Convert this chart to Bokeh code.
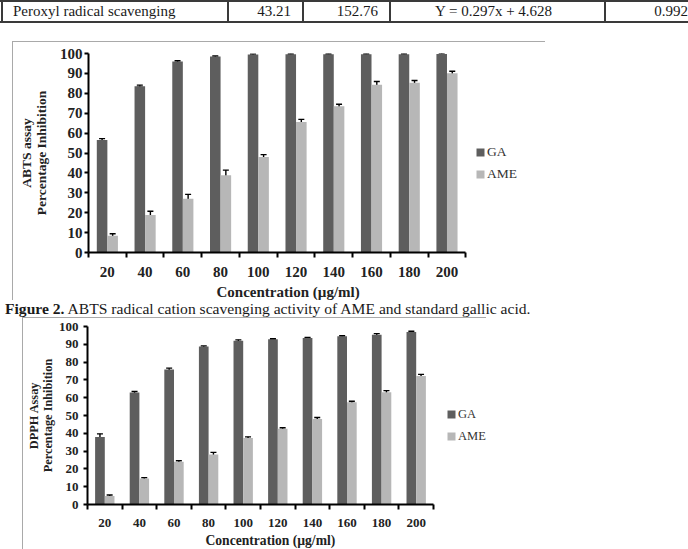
from bokeh.plotting import figure
from bokeh.models import (ColumnDataSource, FixedTicker, Legend, LegendItem, Title, Div,
                          Whisker, TeeHead, Range1d, CustomJSTickFormatter)
from bokeh.layouts import column
from bokeh.embed import file_html
from bokeh.resources import INLINE

# ---- data -----------------------------------------------------------------
concentrations = [20, 40, 60, 80, 100, 120, 140, 160, 180, 200]

abts_ga = [56.5, 83.6, 96.0, 98.5, 99.5, 99.6, 99.6, 99.6, 99.6, 99.7]
abts_ga_err = [0.7, 0.5, 0.4, 0.3, 0.3, 0.3, 0.3, 0.3, 0.3, 0.3]
abts_ame = [8.4, 18.9, 27.0, 38.8, 48.0, 65.6, 73.5, 84.3, 85.3, 90.1]
abts_ame_err = [1.0, 1.8, 2.2, 2.6, 1.2, 1.3, 1.0, 1.6, 1.1, 1.0]

dpph_ga = [37.9, 62.9, 75.8, 88.7, 92.0, 92.9, 93.6, 94.5, 95.4, 96.9]
dpph_ga_err = [1.8, 0.6, 0.8, 0.4, 0.5, 0.3, 0.3, 0.4, 0.6, 0.4]
dpph_ame = [4.8, 14.6, 24.0, 28.1, 37.3, 42.6, 48.0, 57.4, 63.1, 72.2]
dpph_ame_err = [0.5, 0.5, 0.6, 1.2, 0.7, 0.5, 0.9, 0.6, 0.9, 0.9]

table_row = ["Peroxyl radical scavenging", "43.21", "152.76", "Y = 0.297x + 4.628", "0.992"]
caption_bold = "Figure 2."
caption_text = "ABTS radical cation scavenging activity of AME and standard gallic acid."
y_ticks = list(range(0, 101, 10))
x_title = "Concentration (\u00b5g/ml)"
y_title = "Percentage Inhibition"

GA_COLOR = "#5e5e5e"
AME_COLOR = "#b7b7b7"
SERIF = "Liberation Serif"
FRAME = "1px solid #a9a9a9"
FRAME_COLOR = "#a9a9a9"


def bar_panel(ga, ga_err, ame, ame_err, assay, fig_w, fig_h, left, top, bottom, axis_px,
              tick_size, ylabel_size, xlabel_size, legend_size, legend_xy,
              tick_standoff, ylabel_standoff, xlabel_offset, xlabel_standoff):
    n = len(concentrations)
    idx = list(range(n))
    bw = 0.28
    # the plotting area runs to the right edge so the legend sits inside it;
    # the x axis itself is bounded to the ten concentration groups
    frame_w = fig_w - left
    x_end = -0.5 + n * frame_w / axis_px
    p = figure(width=fig_w, height=fig_h, output_backend="svg", toolbar_location=None,
               x_range=Range1d(-0.5, x_end), y_range=Range1d(0, 100),
               min_border_left=left, min_border_right=0,
               min_border_top=top, min_border_bottom=bottom)
    p.outline_line_color = None
    p.grid.visible = False
    p.background_fill_color = "white"
    p.border_fill_color = "white"

    ga_src = ColumnDataSource(dict(
        x=[i - bw / 2 for i in idx], top=ga,
        upper=[v + e for v, e in zip(ga, ga_err)], lower=[v - e for v, e in zip(ga, ga_err)]))
    ame_src = ColumnDataSource(dict(
        x=[i + bw / 2 for i in idx], top=ame,
        upper=[v + e for v, e in zip(ame, ame_err)], lower=[v - e for v, e in zip(ame, ame_err)]))

    ga_r = p.vbar(x="x", top="top", bottom=0, width=bw, source=ga_src,
                  fill_color=GA_COLOR, line_color=None)
    ame_r = p.vbar(x="x", top="top", bottom=0, width=bw, source=ame_src,
                   fill_color=AME_COLOR, line_color=None)

    for src in (ga_src, ame_src):
        w = Whisker(source=src, base="x", upper="upper", lower="lower",
                    line_color="black", line_width=1.4,
                    upper_head=TeeHead(size=6, line_color="black", line_width=1.4),
                    lower_head=TeeHead(size=6, line_color="black", line_width=1.4))
        p.add_layout(w)

    legend = Legend(items=[LegendItem(label="GA", renderers=[ga_r]),
                           LegendItem(label="AME", renderers=[ame_r])],
                    location=legend_xy, glyph_width=10, glyph_height=10,
                    label_height=20, label_standoff=2, spacing=2, padding=0, margin=0,
                    border_line_color=None, background_fill_alpha=0,
                    label_text_font=SERIF, label_text_font_size=legend_size,
                    label_text_color="#333333")
    p.add_layout(legend)

    # x axis: labels centred on groups, small ticks between groups
    xa = p.xaxis[0]
    xa.bounds = (-0.5, n - 0.5)
    xa.ticker = FixedTicker(ticks=idx, minor_ticks=[i - 0.5 for i in range(n + 1)])
    xa.formatter = CustomJSTickFormatter(args=dict(labels=[str(c) for c in concentrations]),
                                         code="return labels[Math.round(tick)]")
    xa.major_tick_out = 0
    xa.major_tick_in = 0
    xa.minor_tick_out = 5
    xa.minor_tick_in = 0
    xa.minor_tick_line_width = 2
    xa.minor_tick_line_color = "black"
    xa.axis_line_width = 2
    xa.axis_line_color = "black"
    xa.major_label_standoff = 9

    ya = p.yaxis[0]
    ya.ticker = FixedTicker(ticks=y_ticks)
    ya.major_tick_out = 4
    ya.major_tick_in = 0
    ya.minor_tick_out = 0
    ya.minor_tick_in = 0
    ya.major_tick_line_width = 2
    ya.axis_line_width = 2
    ya.axis_line_color = "black"
    ya.major_label_standoff = tick_standoff
    ya.axis_label = f"{assay}\n{y_title}"
    ya.axis_label_standoff = ylabel_standoff
    ya.axis_label_text_line_height = 1.0
    ya.axis_label_text_font_size = ylabel_size

    for ax in (xa, ya):
        ax.major_label_text_font = SERIF
        ax.major_label_text_font_style = "bold"
        ax.major_label_text_font_size = tick_size
        ax.major_label_text_color = "#222222"
        ax.axis_label_text_font = SERIF
        ax.axis_label_text_font_style = "bold"
        ax.axis_label_text_color = "#222222"

    # x title placed under the bounded axis rather than the whole plotting area
    p.add_layout(Title(text=x_title, align="left", text_font=SERIF,
                       text_font_style="bold", text_font_size=xlabel_size,
                       text_color="#222222", standoff=xlabel_standoff,
                       offset=xlabel_offset), "below")
    return p


# ---- table row ------------------------------------------------------------
cells = [(2, 228, "left"), (228, 303, "right"), (303, 390, "right"),
         (390, 605, "center"), (605, 700, "right")]
parts = []
for x in (2, 228, 303, 390, 605):
    parts.append(f'<div style="position:absolute;left:{x-1}px;top:0;width:2px;height:23px;background:#3a3a3a"></div>')
parts.append('<div style="position:absolute;left:0;top:0;width:688px;height:2px;background:#3a3a3a"></div>')
parts.append('<div style="position:absolute;left:0;top:21px;width:688px;height:2px;background:#3a3a3a"></div>')
for (x0, x1, al), txt in zip(cells, table_row):
    pad = "padding:0 12px 0 11px;" if al != "center" else "padding:0 8px 0 0;"
    if x1 == 700:
        pad = "padding:0 12px 0 0;"
    parts.append(f'<div style="position:absolute;left:{x0}px;top:2px;width:{x1-x0}px;height:19px;'
                 f'line-height:19px;text-align:{al};box-sizing:border-box;{pad}'
                 f'font-family:\'{SERIF}\';font-size:15px;color:#1a1a1a;white-space:nowrap">{txt}</div>')
table_div = Div(text='<div style="position:relative;width:688px;height:23px;overflow:hidden">'
                     + "".join(parts) + "</div>",
                width=688, height=23, margin=(0, 0, 0, 0))

# ---- figures --------------------------------------------------------------
abts = bar_panel(abts_ga, abts_ga_err, abts_ame, abts_ame_err, "ABTS assay",
                 533, 259, 73, 11, 47, 379,
                 "15px", "13.5px", "15px", "13.5px", (387, 68),
                 2, 8, 128, 4)
abts.margin = (18, 0, 0, 12)
abts.styles = {"border-top": FRAME, "border-left": FRAME}

caption = Div(text=f'<div style="font-family:\'{SERIF}\';font-size:15.6px;line-height:17px;'
                   f'color:#1a1a1a;white-space:nowrap"><b>{caption_bold}</b> {caption_text}</div>',
              width=688, height=17, margin=(0, 0, 0, 5))

# the lower panel is wider than its thin frame, so the frame is painted behind a
# transparent canvas margin: a vertical rule 10px in and a 464px top rule
dpph = bar_panel(dpph_ga, dpph_ga_err, dpph_ame, dpph_ame_err, "DPPH Assay",
                 500, 232, 75, 9, 43, 346,
                 "13px", "12.3px", "13.6px", "12.5px", (359, 58),
                 5, 1, 118, 3)
dpph.border_fill_color = None
dpph.margin = (0, 0, 0, 12)
dpph.styles = {"background": (f"linear-gradient({FRAME_COLOR},{FRAME_COLOR}) 10px 0 / 1px 100% no-repeat, "
                              f"linear-gradient({FRAME_COLOR},{FRAME_COLOR}) 10px 0 / 464px 1px no-repeat")}

page = column(table_div, abts, caption, dpph, spacing=0, margin=(0, 0, 0, 0))

open("out.html", "w").write(file_html(page, INLINE))
